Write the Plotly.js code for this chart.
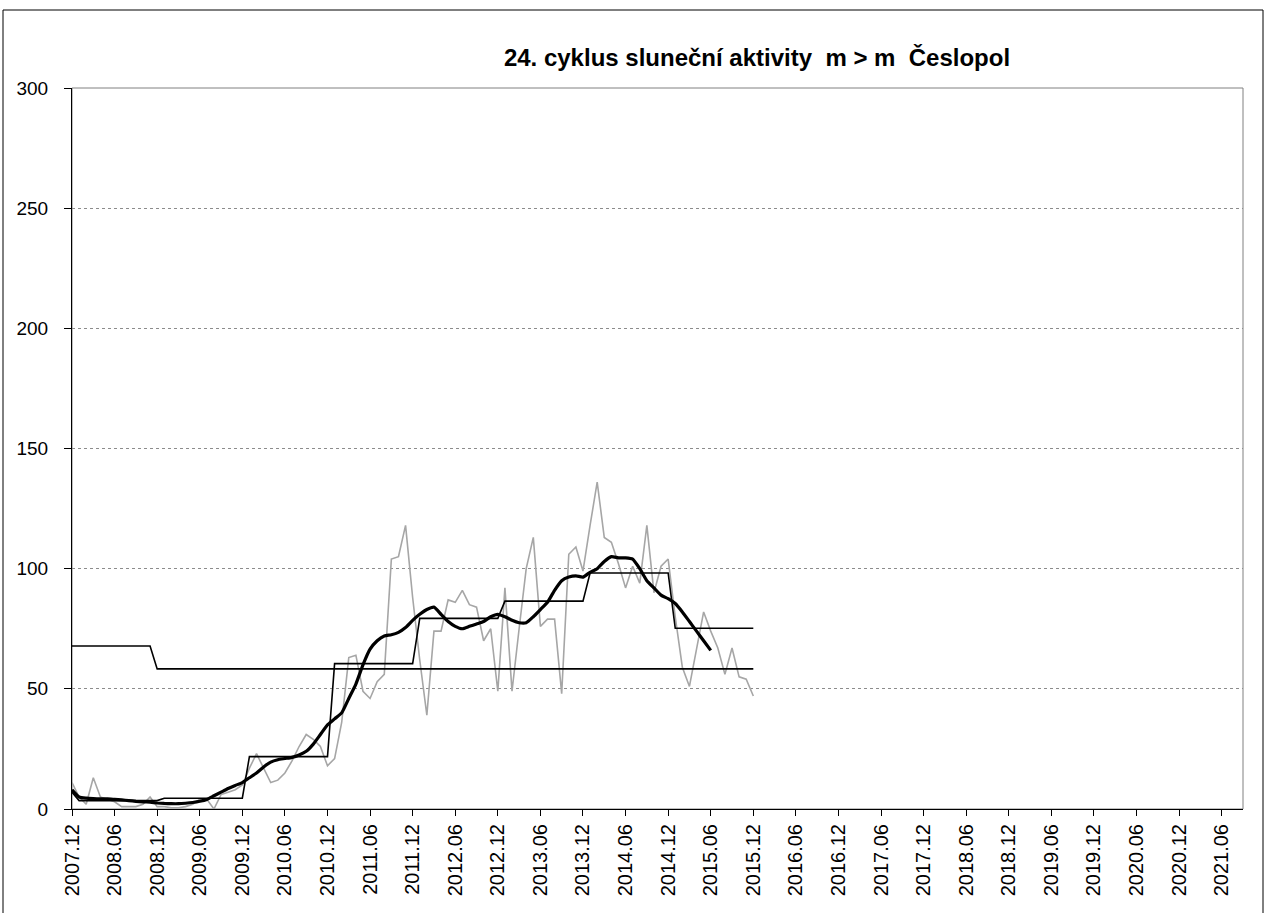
<!DOCTYPE html>
<html>
<head>
<meta charset="utf-8">
<script src="https://cdn.plot.ly/plotly-3.0.1.min.js"></script>
<style>
  html, body { margin: 0; padding: 0; background: #fff; }
  #chart { width: 1265px; height: 913px; }
</style>
</head>
<body>
<div id="chart"></div>
<script>
// ---- Category axis: months from 2007.12 to 2021.09 ----
const firstYear = 2007, firstMonth = 12, monthCount = 166;
const months = [];
for (let k = 0; k < monthCount; k++) {
  const m0 = firstMonth - 1 + k;
  const y = firstYear + Math.floor(m0 / 12);
  const m = (m0 % 12) + 1;
  months.push(y + '.' + (m < 10 ? '0' + m : m));
}
// tick labels shown every six months
const tickLabels = months.filter((_, k) => k % 6 === 0 && k <= 162);

// ---- Monthly values (grey), 2007.12 .. 2015.12 ----
const monthlyValues = [
  11, 5, 2, 13, 5, 4, 3, 1, 1, 1, 2, 5,
  1, 1, 0.5, 0.5, 1, 2, 4, 4, 0, 6, 7, 8,
  10, 17, 23, 17, 11, 12, 15, 20, 26, 31, 29, 26,
  18, 21, 36, 63, 64, 49, 46, 53, 56, 104, 105, 118,
  88, 62, 39, 74, 74, 87, 86, 91, 85, 84, 70, 75,
  49, 92, 49, 75, 100, 113, 76, 79, 79, 48, 106, 109,
  99, 118, 136, 113, 111, 102, 92, 101, 94, 118, 90, 101,
  104, 80, 59, 51, 66, 82, 74, 67, 56, 67, 55, 54,
  47
];

// ---- Smoothed values (thick black), 2007.12 .. 2015.06 ----
const smoothedValues = [
  8, 5, 4.5, 4.3, 4.2, 4.2, 4, 3.8, 3.5, 3.2, 3, 2.8,
  2.5, 2.3, 2.2, 2.2, 2.4, 2.7, 3.2, 4, 5.5, 7, 8.5, 9.8,
  11, 13, 15, 17.5, 19.5, 20.5, 21, 21.5, 22.5, 24, 27, 31,
  35, 37.5, 40, 46, 52, 60, 66.5, 70, 72, 72.5, 73.5, 75.5,
  78.5, 81, 83, 84, 81, 78, 76, 75, 76, 77, 78, 80,
  81, 80, 78.5, 77.5, 77.5, 80, 83, 86, 91, 95, 96.5, 97,
  96.5, 98.5, 100, 103, 105, 104.5, 104.5, 104, 100, 95, 92, 89,
  87.5, 85.5, 82, 78, 74, 70, 66
];

// ---- Yearly means (thin black steps) ----
const stepYears = [2007, 2008, 2009, 2010, 2011, 2012, 2013, 2014, 2015];
const stepMeans = [7, 3.5, 4.5, 21.8, 60.5, 79.3, 86.5, 98.2, 75.2];

// ---- Reference level (thin black line) ----
const refStarts = ['2007.12', '2008.12'];
const refLevels = [67.8, 58.3];
const seriesEnd = '2015.12';

// build series on the category axis
const monthlyX = months.slice(0, monthlyValues.length);
const smoothX = months.slice(0, smoothedValues.length);
const endIdx = months.indexOf(seriesEnd);
const stepX = months.slice(0, endIdx + 1);
const stepY = stepX.map(lbl => stepMeans[stepYears.indexOf(parseInt(lbl.slice(0, 4), 10))]);
const refY = stepX.map(lbl => {
  let v = refLevels[0];
  refStarts.forEach((s, j) => { if (months.indexOf(lbl) >= months.indexOf(s)) v = refLevels[j]; });
  return v;
});

const FONT = 'Arial, "Liberation Sans", sans-serif';

const traces = [
  { x: monthlyX, y: monthlyValues, type: 'scatter', mode: 'lines',
    line: { color: '#a6a6a6', width: 1.6 }, hoverinfo: 'x+y' },
  { x: stepX, y: refY, type: 'scatter', mode: 'lines',
    line: { color: '#000000', width: 1.6 } },
  { x: stepX, y: stepY, type: 'scatter', mode: 'lines',
    line: { color: '#000000', width: 1.6 } },
  { x: smoothX, y: smoothedValues, type: 'scatter', mode: 'lines',
    line: { color: '#000000', width: 3.2, shape: 'spline', smoothing: 0.5 } }
];

const L = 72, R = 1243, T = 88, B = 809;
const pw = R - L, ph = B - T;
const px = v => (v - L) / pw;
const py = v => (B - v) / ph;

const layout = {
  width: 1265, height: 913,
  margin: { l: L, r: 1265 - R, t: T, b: 913 - B, pad: 0 },
  paper_bgcolor: '#ffffff', plot_bgcolor: '#ffffff',
  showlegend: false,
  font: { family: FONT, color: '#000000' },
  title: {
    text: '<b>24. cyklus sluneční aktivity  m &gt; m  Česlopol</b>',
    font: { family: FONT, size: 24, color: '#000000' },
    xref: 'container', yref: 'container',
    x: 757 / 1265, xanchor: 'center',
    y: 1 - 58 / 913, yanchor: 'middle'
  },
  xaxis: {
    type: 'category', categoryorder: 'array', categoryarray: months,
    range: [0, monthCount - 1],
    tickmode: 'array', tickvals: tickLabels, ticktext: tickLabels,
    tickangle: -90, ticks: 'outside', ticklen: 6, tickwidth: 1, tickcolor: '#000',
    tickfont: { family: FONT, size: 20, color: '#000' },
    showline: true, linecolor: '#000', linewidth: 1,
    showgrid: false, zeroline: false, fixedrange: true
  },
  yaxis: {
    range: [0, 300], tickmode: 'array', tickvals: [0, 50, 100, 150, 200, 250, 300],
    ticktext: ['0', '50', '100', '150', '200', '250', '300'],
    ticks: 'outside', ticklen: 7, tickwidth: 1, tickcolor: '#000',
    tickfont: { family: FONT, size: 19, color: '#000' },
    ticklabelstandoff: 12,
    showline: true, linecolor: '#000', linewidth: 1,
    showgrid: true, gridcolor: '#8c8c8c', griddash: 'dot', gridwidth: 1,
    zeroline: false, fixedrange: true
  },
  shapes: [
    // plot area border
    { type: 'rect', xref: 'paper', yref: 'paper', x0: 0, x1: 1, y0: 0, y1: 1,
      line: { color: '#808080', width: 1 }, layer: 'below' },
    // chart area frame
    { type: 'rect', xref: 'paper', yref: 'paper',
      x0: px(3), x1: px(1263), y0: py(925), y1: py(10),
      line: { color: '#000000', width: 1 }, layer: 'below' }
  ]
};

Plotly.newPlot('chart', traces, layout, { displayModeBar: false, staticPlot: true });
</script>
</body>
</html>
